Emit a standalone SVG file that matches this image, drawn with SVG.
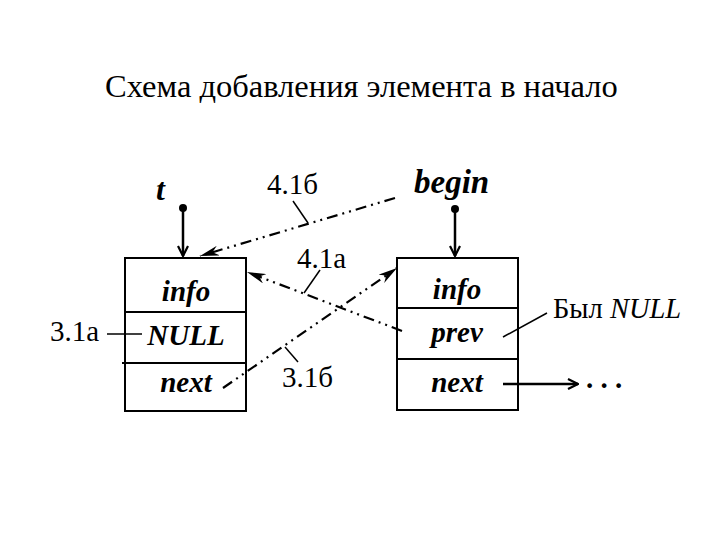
<svg xmlns="http://www.w3.org/2000/svg" width="720" height="540" viewBox="0 0 720 540">
<style>
.box{fill:none;stroke:#000;stroke-width:2}
.ln{fill:none;stroke:#000;stroke-width:1.5}
.ptr{fill:none;stroke:#000;stroke-width:2.5}
.dd{fill:none;stroke:#000;stroke-width:2.2;stroke-dasharray:11 5 2 5 2 5}
.reg{font-family:'Liberation Serif','Times New Roman',serif;font-size:29px;fill:#000}
.bi{font-family:'Liberation Serif','Times New Roman',serif;font-size:29px;font-weight:bold;font-style:italic;fill:#000}
</style>
<defs>
<marker id="chev" viewBox="0 0 12 12" refX="11" refY="6" markerWidth="12" markerHeight="12" markerUnits="userSpaceOnUse" orient="auto">
<path d="M1,1 L11,6 L1,11" fill="none" stroke="#000" stroke-width="2.2"/>
</marker>
<marker id="barb" viewBox="0 0 20 10" refX="19" refY="5" markerWidth="20" markerHeight="10" markerUnits="userSpaceOnUse" orient="auto">
<path d="M0,0 L19,5 L0,10 L6,5 Z" fill="#000"/>
</marker>
</defs>
<rect width="720" height="540" fill="#fff"/>
<text id="title" class="reg" x="105" y="97" style="font-size:32.5px">Схема добавления элемента в начало</text>
<g id="node-t">
<rect class="box" x="125" y="258" width="121" height="153"/>
<line class="box" x1="125" y1="312" x2="246" y2="312"/>
<line class="box" x1="122" y1="363" x2="246" y2="363"/>
<text class="bi" x="186" y="301" text-anchor="middle">info</text>
<text class="bi" x="186" y="345" text-anchor="middle">NULL</text>
<text class="bi" x="186" y="392" text-anchor="middle">next</text>
</g>
<g id="node-begin">
<rect class="box" x="397" y="258" width="121" height="152"/>
<line class="box" x1="397" y1="308" x2="518" y2="308"/>
<line class="box" x1="397" y1="359" x2="518" y2="359"/>
<text class="bi" x="457" y="299" text-anchor="middle">info</text>
<text class="bi" x="457" y="342" text-anchor="middle">prev</text>
<text class="bi" x="457" y="392" text-anchor="middle">next</text>
</g>
<g id="ptr-t">
<text class="bi" x="156" y="200" style="font-size:32px">t</text>
<circle cx="183" cy="208" r="4"/>
</g>
<g id="ptr-begin">
<text class="bi" x="414" y="193" style="font-size:33px">begin</text>
<circle cx="455" cy="209" r="4"/>
</g>
<g id="labels">
<text class="reg" x="267" y="194">4.1б</text>
<text class="reg" x="297" y="268">4.1а</text>
<text class="reg" x="282" y="387">3.1б</text>
<text class="reg" x="50" y="341">3.1а</text>
<text class="reg" x="553" y="318" style="font-size:28.5px">Был <tspan font-style="italic">NULL</tspan></text>
<text class="reg" x="586" y="388" style="font-weight:bold">. . .</text>
</g>
<g id="connectors">
<line class="ptr" x1="183" y1="208" x2="183" y2="256" marker-end="url(#chev)"/>
<line class="ptr" x1="455" y1="209" x2="455" y2="256" marker-end="url(#chev)"/>
<line class="ptr" x1="503" y1="384" x2="578" y2="384" marker-end="url(#chev)"/>
<line class="dd" x1="395" y1="198" x2="200" y2="256" marker-end="url(#barb)"/>
<line class="dd" x1="402" y1="331" x2="247" y2="272" marker-end="url(#barb)"/>
<line class="dd" x1="223" y1="388" x2="397" y2="268" marker-end="url(#barb)"/>
<line class="ln" x1="293" y1="201" x2="308" y2="223"/>
<line class="ln" x1="320" y1="270" x2="304" y2="293"/>
<line class="ln" x1="285" y1="347" x2="298" y2="362"/>
<line class="ln" x1="503" y1="337" x2="547" y2="313"/>
<line class="ln" x1="107" y1="334" x2="142" y2="334"/>
</g>
</svg>
